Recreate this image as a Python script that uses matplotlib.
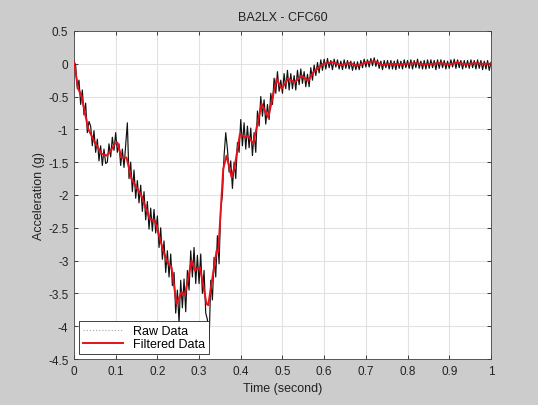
import numpy as np
import matplotlib
matplotlib.use("Agg")
import matplotlib.pyplot as plt

plt.rcParams["font.family"] = ["Liberation Sans", "DejaVu Sans"]

title = "BA2LX - CFC60"
x_label = "Time (second)"
y_label = "Acceleration (g)"
series_names = ["Raw Data", "Filtered Data"]

# Raw accelerometer samples, 4 ms spacing from 0 to 1 s
raw_dt = 0.004
raw_g = [
    0.04, -0.02, -0.38, -0.25, -0.62, -0.40, -0.78, -0.60, -1.05, -0.88,
    -0.95, -1.25, -1.02, -1.35, -1.15, -1.48, -1.25, -1.55, -1.30, -1.52,
    -1.50, -1.22, -1.42, -1.12, -1.32, -1.05, -1.35, -1.22, -1.55, -1.30,
    -1.58, -1.25, -0.90, -1.75, -1.50, -1.95, -1.62, -2.05, -1.78, -2.12,
    -1.85, -2.25, -1.95, -2.38, -2.10, -2.52, -2.20, -2.55, -2.22, -2.58,
    -2.32, -2.80, -2.50, -2.98, -2.70, -3.18, -2.85, -3.25, -2.90, -3.38,
    -3.18, -3.80, -3.45, -3.95, -3.30, -3.72, -3.28, -3.78, -3.15, -3.45,
    -2.85, -3.25, -2.80, -3.35, -2.92, -3.35, -2.90, -3.50, -3.15, -3.80,
    -3.90, -4.25, -3.30, -3.60, -2.95, -3.25, -2.62, -3.05, -2.20, -2.00,
    -1.40, -1.05, -1.30, -1.65, -1.48, -1.90, -1.50, -1.75, -1.20, -1.35,
    -0.85, -1.25, -0.90, -1.30, -0.95, -1.28, -0.98, -1.40, -1.05, -1.35,
    -0.72, -0.95, -0.50, -0.80, -0.55, -0.92, -0.62, -0.85, -0.45, -0.62,
    -0.22, -0.45, -0.12, -0.42, -0.25, -0.45, -0.15, -0.38, -0.10, -0.40,
    -0.15, -0.38, -0.18, -0.40, -0.10, -0.32, -0.08, -0.30, -0.12, -0.35,
    -0.16, -0.35, -0.06, -0.25, -0.02, -0.18, 0.02, -0.14, 0.06, -0.10,
    0.07, -0.08, 0.08, -0.06, 0.05, -0.09, 0.07, -0.05, 0.06, -0.08,
    0.04, -0.09, 0.06, -0.07, 0.05, -0.08, 0.04, -0.10, 0.03, -0.09,
    0.03, -0.09, 0.05, -0.06, 0.07, -0.05, 0.06, -0.05, 0.08, -0.03,
    0.09, -0.04, 0.06, -0.07, 0.04, -0.09, 0.05, -0.06, 0.05, -0.08,
    0.05, -0.08, 0.04, -0.09, 0.06, -0.07, 0.04, -0.08, 0.06, -0.06,
    0.05, -0.07, 0.06, -0.08, 0.05, -0.06, 0.07, -0.07, 0.04, -0.08,
    0.05, -0.08, 0.06, -0.07, 0.06, -0.06, 0.05, -0.09, 0.06, -0.07,
    0.06, -0.06, 0.05, -0.08, 0.04, -0.07, 0.06, -0.05, 0.07, -0.07,
    0.06, -0.06, 0.05, -0.08, 0.05, -0.06, 0.05, -0.07, 0.06, -0.06,
    0.05, -0.08, 0.06, -0.07, 0.05, -0.09, 0.04, -0.08, 0.05, -0.10,
    0.02,
]
raw_t = np.arange(len(raw_g)) * raw_dt

# CFC60 filtered trace
filt_t = [
    0.000, 0.010, 0.018, 0.034, 0.046, 0.066, 0.078, 0.088, 0.098, 0.104,
    0.114, 0.126, 0.138, 0.162, 0.182, 0.194, 0.214, 0.226, 0.234, 0.246,
    0.258, 0.266, 0.282, 0.290, 0.302, 0.318, 0.322, 0.342, 0.346, 0.358,
    0.366, 0.378, 0.386, 0.398, 0.410, 0.418, 0.430, 0.450, 0.466, 0.486,
    0.498, 0.514, 0.530, 0.546, 0.562, 0.574, 0.598, 0.620, 0.640, 0.660,
    0.680, 0.700, 0.720, 0.740, 0.760, 0.780, 0.800, 0.820, 0.840, 0.860,
    0.880, 0.900, 0.920, 0.940, 0.960, 0.980, 1.000,
]
filt_g = [
    0.02, -0.38, -0.49, -0.99, -1.15, -1.37, -1.40, -1.33, -1.22, -1.20,
    -1.43, -1.43, -1.76, -2.01, -2.37, -2.39, -2.85, -3.05, -3.10, -3.66,
    -3.48, -3.53, -3.00, -3.15, -3.10, -3.66, -3.68, -2.85, -2.87, -1.60,
    -1.40, -1.73, -1.55, -1.07, -1.12, -1.10, -1.22, -0.61, -0.82, -0.23,
    -0.38, -0.23, -0.28, -0.18, -0.26, -0.13, 0.00, 0.02, -0.02, 0.01,
    -0.03, 0.02, 0.04, -0.02, 0.00, -0.01, 0.00, 0.01, -0.01, 0.00,
    0.01, -0.01, 0.02, -0.01, 0.01, 0.00, 0.00,
]

x_ticks = [0, 0.1, 0.2, 0.3, 0.4, 0.5, 0.6, 0.7, 0.8, 0.9, 1]
x_tick_labels = ["0", "0.1", "0.2", "0.3", "0.4", "0.5", "0.6", "0.7", "0.8", "0.9", "1"]
y_ticks = [0.5, 0, -0.5, -1, -1.5, -2, -2.5, -3, -3.5, -4, -4.5]
y_tick_labels = ["0.5", "0", "-0.5", "-1", "-1.5", "-2", "-2.5", "-3", "-3.5", "-4", "-4.5"]

fig = plt.figure(figsize=(5.38, 4.06), dpi=100, facecolor="#cccccc")
ax = fig.add_axes([0.1375, 0.1133, 0.775, 0.808])
ax.set_facecolor("white")

ax.plot(raw_t, raw_g, color="#111111", linewidth=0.85, label=series_names[0], zorder=2)
ax.plot(filt_t, filt_g, color="#e8101a", linewidth=1.4, label=series_names[1], zorder=3)

ax.set_xlim(0, 1)
ax.set_ylim(-4.5, 0.5)
ax.set_xticks(x_ticks)
ax.set_xticklabels(x_tick_labels)
ax.set_yticks(y_ticks)
ax.set_yticklabels(y_tick_labels)
ax.grid(True, color="#e2e2e2", linewidth=0.8, linestyle="-")
ax.set_axisbelow(True)
ax.tick_params(direction="in", top=True, right=True, length=3, width=0.6,
               labelsize=8.5, colors="#222222", pad=4)
for s in ax.spines.values():
    s.set_color("#444444")
    s.set_linewidth(0.6)

ax.set_title(title, fontsize=9, color="#222222", pad=8)
ax.set_xlabel(x_label, fontsize=9, color="#222222", labelpad=4)
ax.set_ylabel(y_label, fontsize=9, color="#222222", labelpad=2)

leg = ax.legend(loc="lower left", fontsize=9, fancybox=False, framealpha=1,
                edgecolor="#222222", borderpad=0.3, handlelength=3.2,
                labelspacing=0.1, borderaxespad=0.4)
leg.get_frame().set_linewidth(0.6)
leg.get_lines()[0].set_color("#aaaaaa")
leg.get_lines()[0].set_linestyle(":")

fig.savefig("out.png", dpi=100, facecolor=fig.get_facecolor())
